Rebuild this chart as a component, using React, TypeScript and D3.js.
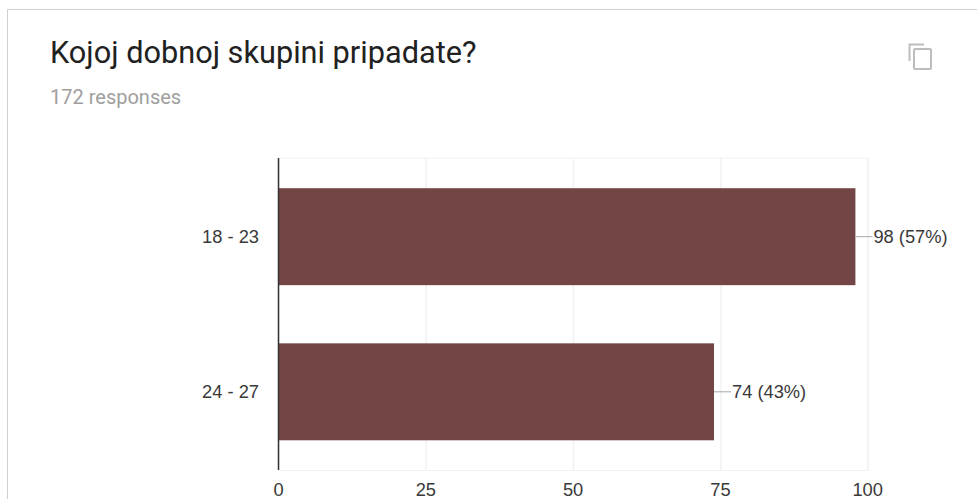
import React from "react";
import * as d3 from "d3";

const title = "Kojoj dobnoj skupini pripadate?";
const subtitle = "172 responses";
const categories = ["18 - 23", "24 - 27"];
const counts = [98, 74];
const percents = [57, 43];
const ticks = [0, 25, 50, 75, 100];

const W = 977, H = 499;
const x = d3.scaleLinear().domain([0, 100]).range([278, 867.2]);
const y = d3.scaleBand<string>().domain(categories).range([158.2, 470.3]).paddingInner(0.375).paddingOuter(0.1935);

export default function App() {
  React.useEffect(() => {
    document.body.style.margin = "0";
  }, []);
  return (
    <svg width={W} height={H} style={{ position: "absolute", left: 0, top: 0, background: "#fff" }}>
      <path d="M7.5 499V9.5H977" fill="none" stroke="#d0d0d0" strokeWidth={1} />
      <text x={50} y={63} fontFamily="Roboto" fontSize={30.7} fill="#212121">{title}</text>
      <text x={50} y={104} fontFamily="Roboto" fontSize={20} fill="#9e9e9e">{subtitle}</text>
      <g fill="none" stroke="#bdbdbd" strokeWidth={2}>
        <path d="M909.5 61V44.5H924" />
        <rect x={914} y={49} width={17} height={20} rx={1} />
      </g>
      {ticks.map((t) => (
        <line key={t} x1={x(t) + 0.8} x2={x(t) + 0.8} y1={158} y2={471} stroke="#f2f2f2" strokeWidth={1.6} />
      ))}
      <line x1={278} x2={868} y1={158} y2={158} stroke="#f2f2f2" />
      <line x1={278} x2={868} y1={470.5} y2={470.5} stroke="#f2f2f2" />
      {categories.map((c, i) => {
        const by = y(c)!;
        const cy = by + y.bandwidth() / 2;
        return (
          <g key={c}>
            <rect x={x(0)} y={by} width={x(counts[i]) - x(0)} height={y.bandwidth()} fill="#744545" />
            <line x1={x(counts[i])} x2={x(counts[i]) + 17} y1={cy} y2={cy} stroke="#a8a8a8" />
            <text x={x(counts[i]) + 18} y={cy + 6} fontFamily="Liberation Sans" fontSize={18.3} fill="#3a3a3a">
              {`${counts[i]} (${percents[i]}%)`}
            </text>
            <text x={259} y={cy + 6} textAnchor="end" fontFamily="Liberation Sans" fontSize={18.3} fill="#3a3a3a">{c}</text>
          </g>
        );
      })}
      <line x1={278.5} x2={278.5} y1={158} y2={470} stroke="#333333" strokeWidth={1.5} />
      {ticks.map((t) => (
        <text key={t} x={x(t) + 0.5} y={496} textAnchor="middle" fontFamily="Liberation Sans" fontSize={18.3} fill="#3a3a3a">{t}</text>
      ))}
    </svg>
  );
}
